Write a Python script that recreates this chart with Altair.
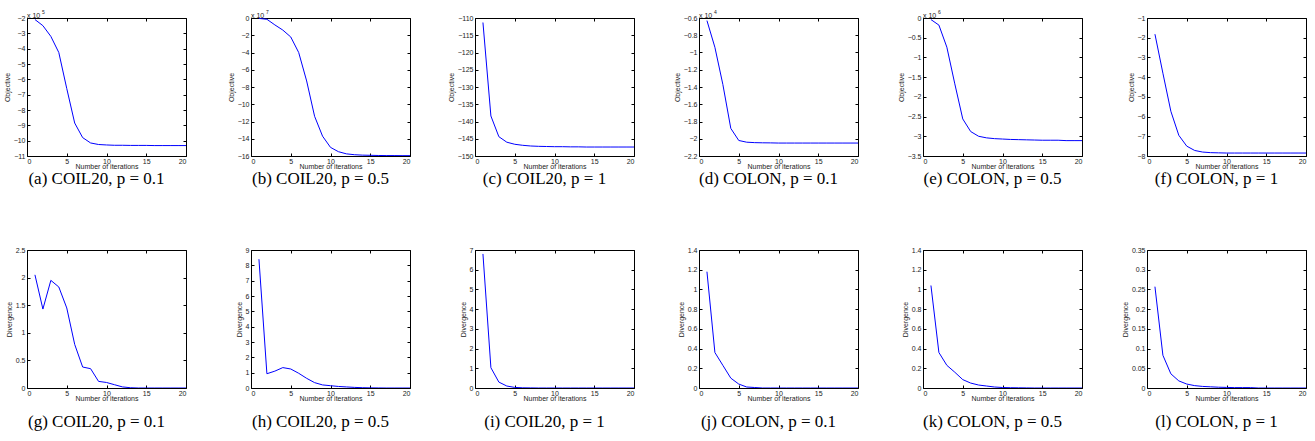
import altair as alt
import pandas as pd

iters = list(range(1, 21))

# Objective values (in the units shown on each axis)
obj_coil_01 = [-2.1, -2.5, -3.2, -4.25, -6.6, -8.85, -9.8, -10.15, -10.25, -10.28,
               -10.3, -10.3, -10.31, -10.31, -10.31, -10.32, -10.32, -10.32, -10.32, -10.32]
obj_coil_05 = [-0.05, -0.15, -0.8, -1.4, -2.2, -4.0, -7.3, -11.4, -13.7, -15.0,
               -15.5, -15.75, -15.85, -15.9, -15.92, -15.94, -15.95, -15.95, -15.96, -15.96]
obj_coil_1 = [-111.3, -138.4, -144.4, -146.0, -146.6, -146.9, -147.1, -147.2, -147.25, -147.3,
              -147.3, -147.35, -147.35, -147.4, -147.4, -147.4, -147.4, -147.4, -147.4, -147.4]
obj_colon_01 = [-0.63, -0.94, -1.37, -1.88, -2.02, -2.04, -2.045, -2.047, -2.048, -2.05,
                -2.05, -2.05, -2.05, -2.05, -2.05, -2.05, -2.05, -2.05, -2.05, -2.05]
obj_colon_05 = [-0.04, -0.18, -0.74, -1.67, -2.56, -2.88, -3.0, -3.04, -3.06, -3.07,
                -3.08, -3.085, -3.09, -3.095, -3.1, -3.1, -3.1, -3.11, -3.11, -3.11]
obj_colon_1 = [-1.82, -3.8, -5.73, -6.95, -7.5, -7.72, -7.8, -7.83, -7.84, -7.85,
               -7.85, -7.85, -7.85, -7.85, -7.85, -7.85, -7.85, -7.85, -7.85, -7.85]

# Divergence values
div_coil_01 = [2.05, 1.43, 1.95, 1.83, 1.45, 0.79, 0.38, 0.35, 0.12, 0.1,
               0.06, 0.02, 0.005, 0.0, 0.0, 0.0, 0.0, 0.0, 0.0, 0.0]
div_coil_05 = [8.4, 0.93, 1.1, 1.33, 1.24, 0.96, 0.63, 0.35, 0.2, 0.15,
               0.1, 0.07, 0.04, 0.02, 0.01, 0.005, 0.0, 0.0, 0.0, 0.0]
div_coil_1 = [6.8, 1.03, 0.3, 0.1, 0.03, 0.01, 0.005, 0.0, 0.0, 0.0,
              0.0, 0.0, 0.0, 0.0, 0.0, 0.0, 0.0, 0.0, 0.0, 0.0]
div_colon_01 = [1.18, 0.36, 0.23, 0.1, 0.04, 0.01, 0.005, 0.0, 0.0, 0.0,
                0.0, 0.0, 0.0, 0.0, 0.0, 0.0, 0.0, 0.0, 0.0, 0.0]
div_colon_05 = [1.04, 0.36, 0.23, 0.16, 0.085, 0.05, 0.03, 0.02, 0.01, 0.005,
                0.003, 0.002, 0.001, 0.0, 0.0, 0.0, 0.0, 0.0, 0.0, 0.0]
div_colon_1 = [0.257, 0.083, 0.036, 0.018, 0.01, 0.006, 0.004, 0.003, 0.002, 0.0015,
               0.001, 0.001, 0.001, 0.0, 0.0, 0.0, 0.0, 0.0, 0.0, 0.0]

x_ticks = [0, 5, 10, 15, 20]

captions_top = ["(a) COIL20, p = 0.1", "(b) COIL20, p = 0.5", "(c) COIL20, p = 1",
                "(d) COLON, p = 0.1", "(e) COLON, p = 0.5", "(f) COLON, p = 1"]
captions_bot = ["(g) COIL20, p = 0.1", "(h) COIL20, p = 0.5", "(i) COIL20, p = 1",
                "(j) COLON, p = 0.1", "(k) COLON, p = 0.5", "(l) COLON, p = 1"]

top_series = [obj_coil_01, obj_coil_05, obj_coil_1, obj_colon_01, obj_colon_05, obj_colon_1]
top_domains = [[-11, -2], [-16, 0], [-150, -110], [-2.2, -0.6], [-3.5, 0], [-8, -1]]
top_ticks = [
    [-11, -10, -9, -8, -7, -6, -5, -4, -3, -2],
    [-16, -14, -12, -10, -8, -6, -4, -2, 0],
    [-150, -145, -140, -135, -130, -125, -120, -115, -110],
    [-2.2, -2.0, -1.8, -1.6, -1.4, -1.2, -1.0, -0.8, -0.6],
    [-3.5, -3.0, -2.5, -2.0, -1.5, -1.0, -0.5, 0],
    [-8, -7, -6, -5, -4, -3, -2, -1],
]
top_exponents = ["5", "7", "", "4", "6", ""]

bot_series = [div_coil_01, div_coil_05, div_coil_1, div_colon_01, div_colon_05, div_colon_1]
bot_domains = [[0, 2.5], [0, 9], [0, 7], [0, 1.4], [0, 1.4], [0, 0.35]]
bot_ticks = [
    [0, 0.5, 1, 1.5, 2, 2.5],
    [0, 1, 2, 3, 4, 5, 6, 7, 8, 9],
    [0, 1, 2, 3, 4, 5, 6, 7],
    [0, 0.2, 0.4, 0.6, 0.8, 1.0, 1.2, 1.4],
    [0, 0.2, 0.4, 0.6, 0.8, 1.0, 1.2, 1.4],
    [0, 0.05, 0.1, 0.15, 0.2, 0.25, 0.3, 0.35],
]

W, H = 159, 138
SANS = "Liberation Sans"
SERIF = "Liberation Serif"
TXT = "#222222"


def panel(values, ytitle, domain, yticks, exponent, caption, cap_offset):
    df = pd.DataFrame({"iter": iters, "val": values})
    xs = alt.Scale(domain=[0, 20], nice=False, zero=False)
    ys = alt.Scale(domain=domain, nice=False, zero=False)
    base = alt.Chart(df)
    main = base.mark_line(color="#0000ff", strokeWidth=1, clip=True).encode(
        x=alt.X("iter:Q", scale=xs, axis=alt.Axis(
            values=x_ticks, orient="bottom", ticks=False, domain=False, grid=False,
            title="Number of iterations", labelPadding=1, titlePadding=-2,
            labelFont=SANS, labelFontSize=7, labelColor=TXT,
            titleFont=SANS, titleFontSize=7, titleFontWeight="normal", titleColor=TXT)),
        y=alt.Y("val:Q", scale=ys, axis=alt.Axis(
            values=yticks, orient="left", ticks=False, domain=False, grid=False,
            format="~g", title=ytitle, labelPadding=2, titlePadding=3,
            labelFont=SANS, labelFontSize=7, labelColor=TXT,
            titleFont=SANS, titleFontSize=7, titleFontWeight="normal", titleColor=TXT)),
    )
    ticks_a = base.mark_line(opacity=0).encode(
        x=alt.X("iter:Q", scale=xs, axis=alt.Axis(
            values=x_ticks, orient="top", offset=-H, labels=False, domain=False, grid=False,
            title=None, tickSize=3, tickColor="black")),
        y=alt.Y("val:Q", scale=ys, axis=alt.Axis(
            values=yticks, orient="right", offset=-W, labels=False, domain=False, grid=False,
            title=None, tickSize=3, tickColor="black")),
    )
    ticks_b = base.mark_line(opacity=0).encode(
        x=alt.X("iter:Q", scale=xs, axis=alt.Axis(
            values=x_ticks, orient="bottom", offset=-H, labels=False, domain=False, grid=False,
            title=None, tickSize=3, tickColor="black")),
        y=alt.Y("val:Q", scale=ys, axis=alt.Axis(
            values=yticks, orient="left", offset=-W, labels=False, domain=False, grid=False,
            title=None, tickSize=3, tickColor="black")),
    )
    layers = [main, ticks_a, ticks_b]
    if exponent:
        edf = pd.DataFrame({"base": ["x 10"], "exp": [exponent]})
        layers.append(alt.Chart(edf).mark_text(
            align="left", baseline="bottom", font=SANS, fontSize=7, color=TXT).encode(
            text="base:N", x=alt.value(0), y=alt.value(1)))
        layers.append(alt.Chart(edf).mark_text(
            align="left", baseline="bottom", font=SANS, fontSize=5, color=TXT).encode(
            text="exp:N", x=alt.value(15), y=alt.value(-3)))
    return alt.layer(*layers).resolve_scale(x="shared", y="shared").resolve_axis(
        x="independent", y="independent").properties(
        width=W, height=H,
        title=alt.TitleParams(caption, orient="bottom", anchor="middle", font=SERIF,
                              fontSize=17, fontWeight="normal", color="black",
                              offset=cap_offset, dx=-10))


panels = [panel(top_series[i], "Objective", top_domains[i], top_ticks[i],
                top_exponents[i], captions_top[i], 2) for i in range(6)]
panels += [panel(bot_series[i], "Divergence", bot_domains[i], bot_ticks[i],
                 "", captions_bot[i], 13) for i in range(6)]

chart = alt.concat(*panels, columns=6, spacing={"row": 94, "column": 65},
                   bounds="flush").configure_view(
    stroke="black", strokeWidth=1).properties(
    background="white", padding={"left": 2, "top": 9, "right": 5, "bottom": 5})

chart.save("out.html", embed_options={"renderer": "svg", "actions": False})
